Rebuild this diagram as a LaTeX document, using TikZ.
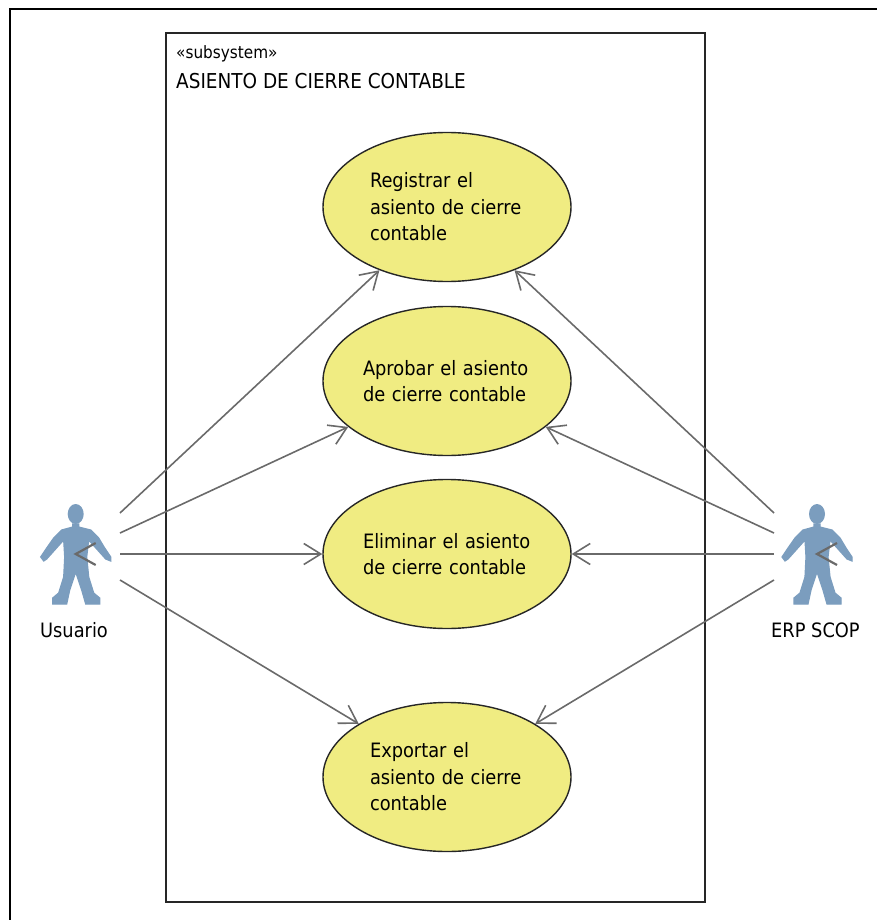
\documentclass[tikz,border=0pt]{standalone}
\usepackage{fontspec}
\setmainfont{DejaVu Sans Condensed}
\usetikzlibrary{positioning}
\usetikzlibrary{arrows.meta}
\usetikzlibrary{shapes.geometric}

\definecolor{casofill}{HTML}{F0EC82}
\definecolor{actorfill}{HTML}{7B9DBE}
\definecolor{flecha}{HTML}{6A6A6A}

\tikzset{
    caso/.style={draw=black!85, line width=1.4pt, fill=casofill, ellipse, inner sep=0pt,
        minimum width=248pt, minimum height=149pt, text width=154pt, align=left,
        font=\fontsize{19.8}{26.5}\selectfont},
    etiqueta/.style={inner sep=0pt, font=\fontsize{19.8}{24}\selectfont},
    enlace/.style={draw=flecha, line width=1.6pt, -{Straight Barb[length=17pt,width=21pt]}},
    actorfig/.pic={
        \filldraw[actorfill, line width=1.2pt] (-3,-30) -- (-3,-27) -- (-14,-24) -- (-22,-16) -- (-29,-6) -- (-35,3) -- (-32,7)
            -- (-29,5) -- (-12,-14) -- (-11,3) -- (-12,23) -- (-17,39) -- (-23,44) -- (-23,50)
            -- (-9,50) -- (-6,36) -- (0,18) -- (6,36) -- (10,50) -- (24,50) -- (24,44) -- (18,39)
            -- (13,23) -- (11,3) -- (13,-14) -- (30,5) -- (35,7) -- (35,3) -- (29,-6)
            -- (23,-16) -- (15,-24) -- (3,-27) -- (3,-30) -- cycle;
        \fill[actorfill] (0,-40) ellipse [x radius=8, y radius=10];
        \draw[flecha, line width=2.2pt] (20,-11) -- (0,0) -- (20,11);
    }
}

\begin{document}
\begin{tikzpicture}[x=1pt, y=-1pt]
    \path[use as bounding box] (0,0) rectangle (877,920);
    \draw[line width=2pt] (10,920) -- (10,9) -- (877,9);
    \draw[line width=1.2pt, black!85] (166,33) rectangle (705,902);

    \node(estereotipo) [etiqueta, anchor=west] at (176,54) {\fontsize{17}{20}\selectfont «subsystem»};
    \node(sistema) [etiqueta, anchor=west, font=\fontsize{20.5}{24}\selectfont] at (176,81) {ASIENTO DE CIERRE CONTABLE};

    \node(registrar) [caso] at (447,207) {Registrar el\\asiento de cierre\\contable};
    \node(aprobar) [caso, text width=168pt, below=23.6pt of registrar] {Aprobar el asiento\\de cierre contable};
    \node(eliminar) [caso, text width=168pt, below=22.6pt of aprobar] {Eliminar el asiento\\de cierre contable};
    \node(exportar) [caso, below=72.6pt of eliminar] {Exportar el\\asiento de cierre\\contable};

    \pic at (75.7,554) {actorfig};
    \pic at (817,554) {actorfig};
    \node(usuario) [etiqueta] at (74,630) {Usuario};
    \node(erp) [etiqueta] at (815.5,630) {ERP SCOP};

    \coordinate(ua) at (120,513);
    \coordinate(ub) at (120,533);
    \coordinate(uc) at (120,554);
    \coordinate(ud) at (120,580);
    \coordinate(ea) at (774,513);
    \coordinate(eb) at (774,533);
    \coordinate(ec) at (774,554);
    \coordinate(ed) at (774,580);

    \draw[enlace] (ua) -- (registrar);
    \draw[enlace] (ub) -- (aprobar);
    \draw[enlace] (uc) -- (eliminar);
    \draw[enlace] (ud) -- (exportar);
    \draw[enlace] (ea) -- (registrar);
    \draw[enlace] (eb) -- (aprobar);
    \draw[enlace] (ec) -- (eliminar);
    \draw[enlace] (ed) -- (exportar);
\end{tikzpicture}
\end{document}
